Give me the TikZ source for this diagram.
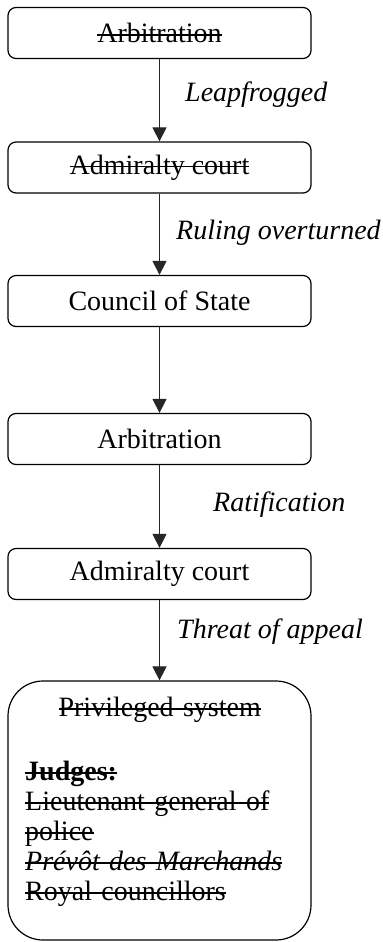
\documentclass[tikz,border=0pt]{standalone}
\usepackage{fontspec}
\setmainfont{Liberation Serif}
\usepackage{tikz}
\usetikzlibrary{arrows.meta,shapes}
\newcommand{\diagfont}{\fontsize{28bp}{30bp}\selectfont}
% struck-through text
\newsavebox{\strikebox}
\newcommand{\strike}[1]{\leavevmode\sbox{\strikebox}{#1}\rlap{\rule[0.25em]{\wd\strikebox}{1.5bp}}\usebox{\strikebox}}

\begin{document}
\begin{tikzpicture}[
    stage/.style={draw,rounded corners=8bp,line width=1.2bp,minimum width=303bp,minimum height=51bp,inner sep=0pt,font=\diagfont},
    tag/.style={anchor=west,inner sep=0pt,font=\diagfont\itshape},
    link/.style={-{Triangle[width=14bp,length=14bp]},line width=0.9bp,draw=black!85}]
    \useasboundingbox (0bp,0bp) rectangle (383bp,-942bp);
    \node (arbA) at (159.5bp,-33bp)[stage] {\strike{Arbitration}};
    \node (admA) at (159.5bp,-167.5bp)[stage] {\strike{Admiralty court}};
    \node (council) at (159.5bp,-301bp)[stage] {Council of State};
    \node (arbB) at (159.5bp,-439bp)[stage] {Arbitration};
    \node (admB) at (159.5bp,-574bp)[stage] {Admiralty court};
    \node (priv) at (159.5bp,-810.5bp)[stage,rounded corners=35bp,minimum height=259bp] {};
    \node (privtext) at (25bp,-697bp)[anchor=north west,inner sep=0pt,align=left,text width=269bp,font=\diagfont]
        {\makebox[269bp]{\strike{Privileged system}}\\[34bp]
         \strike{\textbf{Judges:}}\\
         \strike{Lieutenant general of}\\
         \strike{police}\\
         \strike{\textit{Prévôt des Marchands}}\\
         \strike{Royal councillors}};
    \draw [link] (arbA) to (admA);
    \node (leap) at (185bp,-95bp)[tag] {Leapfrogged};
    \draw [link] (admA) to (council);
    \node (ruling) at (176bp,-233bp)[tag] {Ruling overturned};
    \draw [link] (council) to (arbB);
    \draw [link] (arbB) to (admB);
    \node (ratif) at (213bp,-505bp)[tag] {Ratification};
    \draw [link] (admB) to (priv);
    \node (threat) at (177bp,-632bp)[tag] {Threat of appeal};
\end{tikzpicture}
\end{document}
